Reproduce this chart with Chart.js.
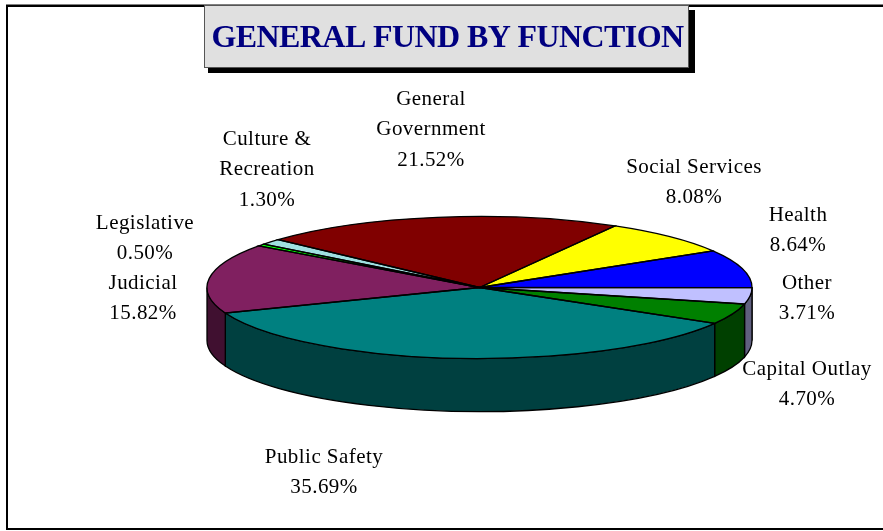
<!DOCTYPE html>
<html>
<head>
<meta charset="utf-8">
<title>General Fund by Function</title>
<script src="https://cdn.jsdelivr.net/npm/chart.js@4"></script>
<style>
    html, body { margin: 0; padding: 0; background: #fff; }
    canvas { display: block; }
</style>
</head>
<body>
<canvas id="fundChart" width="883" height="531"></canvas>
<script>
const categories = ['General Government', 'Social Services', 'Health', 'Other', 'Capital Outlay',
    'Public Safety', 'Judicial', 'Legislative', 'Culture & Recreation'];
const shares = [21.52, 8.08, 8.64, 3.71, 4.70, 35.69, 15.82, 0.50, 1.30];
const sliceColors = ['#800000', '#ffff00', '#0000ff', '#c0c0ff', '#008000',
    '#008080', '#802060', '#00ff00', '#a0e0e0'];
const sideColors = ['#400000', '#808000', '#000080', '#606080', '#004000',
    '#004040', '#401030', '#008000', '#507070'];

// label text is broken the same way as the slide, one anchor per category (centre x, first baseline)
const labelBreaks = [['General', 'Government'], ['Social Services'], ['Health'], ['Other'], ['Capital Outlay'],
    ['Public Safety'], ['Judicial'], ['Legislative'], ['Culture &', 'Recreation']];
const labelAnchors = [[431, 105], [694, 173], [798, 221], [807, 289], [807, 375],
    [324, 463], [143, 289], [145, 229], [267, 145]];

const PIE = { cx: 479.5, cy: 287.5, rx: 272.5, ry: 71, depth: 53 };
const SERIF = '"Liberation Serif", "Times New Roman", serif';

// frame and title box go underneath everything
const backdropPlugin = {
    id: 'backdrop',
    beforeDraw(chart) {
        const ctx = chart.ctx;
        ctx.save();
        ctx.fillStyle = '#808080';
        ctx.fillRect(6, 4, 877, 1);
        ctx.fillStyle = '#000';
        ctx.fillRect(6, 5, 877, 2);
        ctx.fillRect(6, 5, 2, 525);
        ctx.fillRect(6, 528, 877, 2);
        // title box with hard shadow
        ctx.fillRect(208, 10, 487, 63);
        ctx.fillStyle = '#e0e0e0';
        ctx.fillRect(205, 6, 483, 61);
        ctx.strokeStyle = '#555';
        ctx.lineWidth = 1;
        ctx.strokeRect(204.5, 5.5, 484, 62);
        ctx.restore();
        // the title is set tighter than the font's default
        ctx.letterSpacing = '-0.6px';
    }
};

// squashes the library's arcs into an ellipse and adds the extruded wall below
const tiltPlugin = {
    id: 'tilt',
    beforeDatasetDraw(chart, args) {
        const ctx = chart.ctx;
        const arcs = args.meta.data;
        const first = arcs[0];
        ctx.save();
        ctx.lineWidth = 1.3;
        ctx.strokeStyle = '#000';
        arcs.forEach((arc, i) => {
            const a0 = Math.max(arc.startAngle, 0);
            const a1 = Math.min(arc.endAngle, Math.PI);
            if (a1 <= a0) return;
            ctx.beginPath();
            ctx.ellipse(PIE.cx, PIE.cy, PIE.rx, PIE.ry, 0, a0, a1);
            ctx.ellipse(PIE.cx, PIE.cy + PIE.depth, PIE.rx, PIE.ry, 0, a1, a0, true);
            ctx.closePath();
            ctx.fillStyle = sideColors[i];
            ctx.fill();
            ctx.stroke();
        });
        ctx.restore();

        ctx.save();
        ctx.translate(PIE.cx, PIE.cy);
        ctx.scale(PIE.rx / first.outerRadius, PIE.ry / first.outerRadius);
        ctx.translate(-first.x, -first.y);
    },
    afterDatasetDraw(chart, args) {
        const ctx = chart.ctx;
        ctx.restore();
        // outlines are stroked in screen space so they stay even all the way round
        ctx.save();
        ctx.lineWidth = 1.3;
        ctx.strokeStyle = '#000';
        args.meta.data.forEach(arc => {
            ctx.beginPath();
            ctx.moveTo(PIE.cx, PIE.cy);
            ctx.ellipse(PIE.cx, PIE.cy, PIE.rx, PIE.ry, 0, arc.startAngle, arc.endAngle);
            ctx.closePath();
            ctx.stroke();
        });
        ctx.restore();
    }
};

const labelPlugin = {
    id: 'sliceLabels',
    afterDraw(chart) {
        const ctx = chart.ctx;
        ctx.save();
        ctx.font = '21px ' + SERIF;
        ctx.letterSpacing = '0.45px';
        ctx.fillStyle = '#000';
        ctx.textAlign = 'center';
        ctx.textBaseline = 'alphabetic';
        categories.forEach((name, i) => {
            const lines = labelBreaks[i].concat(shares[i].toFixed(2) + '%');
            lines.forEach((line, n) => {
                ctx.fillText(line, labelAnchors[i][0], labelAnchors[i][1] + n * 30.3);
            });
        });
        ctx.restore();
    }
};

new Chart(document.getElementById('fundChart'), {
    type: 'pie',
    data: {
        labels: categories,
        datasets: [{
            data: shares,
            backgroundColor: sliceColors,
            borderWidth: 0
        }]
    },
    options: {
        responsive: false,
        animation: false,
        rotation: -47.66,
        layout: { padding: { left: 12 } },
        plugins: {
            legend: { display: false },
            tooltip: { enabled: false },
            title: {
                display: true,
                text: 'GENERAL FUND BY FUNCTION',
                color: '#000080',
                font: { family: SERIF, size: 32, weight: 'bold' },
                padding: { top: 20, bottom: 0 }
            }
        }
    },
    plugins: [backdropPlugin, tiltPlugin, labelPlugin]
});
</script>
</body>
</html>
